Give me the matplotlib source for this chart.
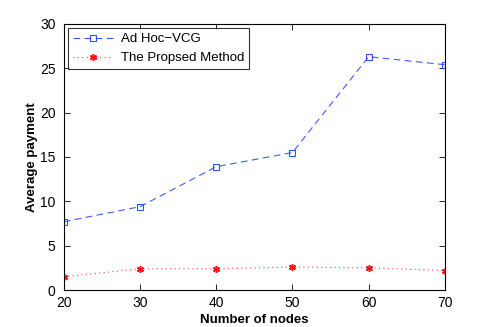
import matplotlib
matplotlib.use('Agg')
import matplotlib.pyplot as plt

plt.rcParams['font.family'] = ['Liberation Sans', 'DejaVu Sans']

nodes = [20, 30, 40, 50, 60, 70]
vcg = [7.7, 9.4, 13.9, 15.5, 26.3, 25.4]
proposed = [1.5, 2.4, 2.4, 2.6, 2.5, 2.2]

fig = plt.figure(figsize=(4.91, 3.27), dpi=100)
ax = fig.add_axes([0.130, 0.113, 0.776, 0.814])

ax.plot(nodes, vcg, color='#3a5cff', linestyle=(0, (6, 4)), linewidth=0.8,
        marker='s', markersize=5, markerfacecolor='none', markeredgecolor='#3050ff',
        markeredgewidth=0.8, label='Ad Hoc\u2212VCG')
ax.plot(nodes, proposed, color='#ff4040', linestyle=(0, (1, 3)), linewidth=0.8,
        marker=(6, 2, 0), markersize=5, markeredgecolor='#ff1010',
        markeredgewidth=1.1, label='The Propsed Method')

ax.set_xlim(20, 70)
ax.set_ylim(0, 30)
ax.set_xticks(nodes)
ax.set_yticks([0, 5, 10, 15, 20, 25, 30])
ax.tick_params(direction='in', length=4, width=0.6, labelsize=10, top=True, right=True)
ax.tick_params(axis='y', pad=6)
ax.tick_params(axis='x', pad=4)
for s in ax.spines.values():
    s.set_linewidth(0.8)

ax.set_xlabel('Number of nodes', fontsize=9.5, fontweight='bold', labelpad=3)
ax.set_ylabel('Average payment', fontsize=9.5, fontweight='bold', labelpad=1)

leg = ax.legend(loc='upper left', fontsize=9.5, frameon=True, fancybox=False,
                edgecolor='black', borderaxespad=0.3, handlelength=3.0,
                borderpad=0.4, labelspacing=0.5, handletextpad=0.6)
leg.get_frame().set_linewidth(0.8)

fig.savefig('out.png', dpi=100)
